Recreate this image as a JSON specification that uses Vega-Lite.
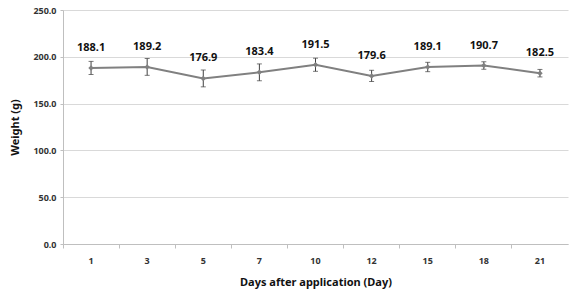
{
  "$schema": "https://vega.github.io/schema/vega-lite/v6.json",
  "width": 505,
  "height": 234,
  "autosize": "none",
  "padding": {"left": 63, "top": 10, "right": 2, "bottom": 48},
  "background": "white",
  "config": {"view": {"stroke": null}, "font": "Noto Sans"},
  "data": {"values": [
    {"day": "1", "weight": 188.1, "err": 7},
    {"day": "3", "weight": 189.2, "err": 9},
    {"day": "5", "weight": 176.9, "err": 9},
    {"day": "7", "weight": 183.4, "err": 9},
    {"day": "10", "weight": 191.5, "err": 7},
    {"day": "12", "weight": 179.6, "err": 6},
    {"day": "15", "weight": 189.1, "err": 5},
    {"day": "18", "weight": 190.7, "err": 4},
    {"day": "21", "weight": 182.5, "err": 4}
  ]},
  "transform": [
    {"calculate": "datum.weight - datum.err", "as": "lo"},
    {"calculate": "datum.weight + datum.err", "as": "hi"}
  ],
  "encoding": {
    "x": {"field": "day", "type": "ordinal", "sort": null, "axis": null,
      "scale": {"paddingInner": 0, "paddingOuter": 0}}
  },
  "resolve": {"axis": {"x": "independent"}},
  "layer": [
    {
      "mark": {"type": "rule", "opacity": 0},
      "encoding": {
        "x": {"field": "day", "type": "ordinal", "sort": null,
          "axis": {"bandPosition": 0, "labels": false, "title": null, "domain": false, "grid": false,
            "ticks": true, "tickColor": "#bfbfbf", "tickSize": 4, "orient": "bottom", "zindex": 1}},
        "y": {"field": "weight", "type": "quantitative",
          "scale": {"domain": [0, 250], "padding": 0, "nice": false, "zero": true},
          "axis": {"title": "Weight (g)", "values": [0, 50, 100, 150, 200, 250], "format": ".1f",
            "labelFont": "Noto Sans", "labelFontSize": 9, "labelFontWeight": "bold", "labelColor": "#333",
            "titleFont": "Noto Sans", "titleFontSize": 11, "titleFontWeight": "bold", "titleColor": "#111",
            "titlePadding": 12,
            "domainColor": "#bfbfbf", "tickColor": "#bfbfbf", "tickSize": 3,
            "gridColor": "#d9d9d9", "gridWidth": 1, "labelPadding": 4}}
      }
    },
    {
      "mark": {"type": "rule", "color": "#404040", "strokeWidth": 1},
      "encoding": {
        "x": {"field": "day", "type": "ordinal", "sort": null,
          "axis": {"title": "Days after application (Day)", "ticks": false, "domainColor": "#bfbfbf",
            "orient": "bottom", "offset": 0,
            "labelAngle": 0, "labelFont": "Noto Sans", "labelFontSize": 9, "labelFontWeight": "bold", "labelColor": "#333",
            "labelPadding": 12,
            "titleFont": "Noto Sans", "titleFontSize": 11, "titleFontWeight": "bold", "titleColor": "#111",
            "titlePadding": 11}},
        "y": {"field": "lo", "type": "quantitative"},
        "y2": {"field": "hi"}
      }
    },
    {
      "mark": {"type": "tick", "color": "#404040", "thickness": 1, "size": 5, "orient": "horizontal"},
      "encoding": {"y": {"field": "lo", "type": "quantitative"}}
    },
    {
      "mark": {"type": "tick", "color": "#404040", "thickness": 1, "size": 5, "orient": "horizontal"},
      "encoding": {"y": {"field": "hi", "type": "quantitative"}}
    },
    {
      "mark": {"type": "line", "color": "#808080", "strokeWidth": 2,
        "point": {"shape": "diamond", "size": 30, "filled": true, "color": "#808080"}},
      "encoding": {"y": {"field": "weight", "type": "quantitative"}}
    },
    {
      "mark": {"type": "text", "dy": -20, "font": "Noto Sans", "fontSize": 11, "fontWeight": "bold", "color": "#111"},
      "encoding": {
        "y": {"field": "weight", "type": "quantitative"},
        "text": {"field": "weight", "type": "quantitative", "format": ".1f"}
      }
    }
  ]
}
